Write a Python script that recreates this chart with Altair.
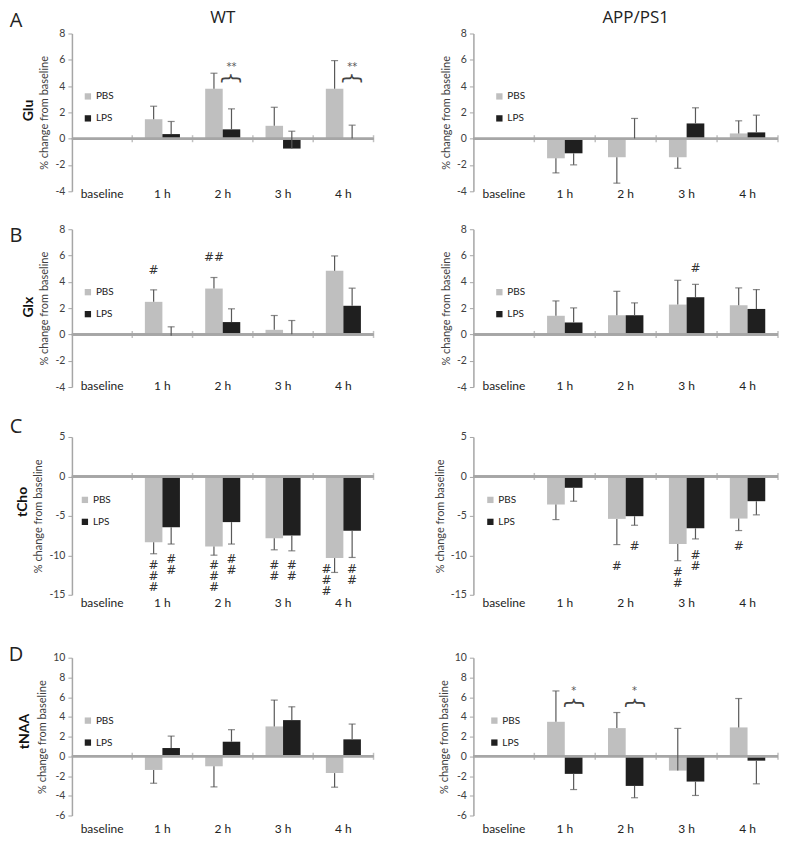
import altair as alt
import pandas as pd

# ---------------- data ----------------
categories = ["baseline", "1 h", "2 h", "3 h", "4 h"]
times = ["1 h", "2 h", "3 h", "4 h"]
groups = ["PBS", "LPS"]
group_colors = ["#bfbfbf", "#1f1f1f"]
genotypes = ["WT", "APP/PS1"]
metrics = ["Glu", "Glx", "tCho", "tNAA"]
panel_letters = ["A", "B", "C", "D"]
y_title = "% change from baseline"

# y-axis ranges and tick labels
glu_domain, glu_ticks = [-4, 8], [-4, -2, 0, 2, 4, 6, 8]
glx_domain, glx_ticks = [-4, 8], [-4, -2, 0, 2, 4, 6, 8]
tcho_domain, tcho_ticks = [-15, 5], [-15, -10, -5, 0, 5]
tnaa_domain, tnaa_ticks = [-6, 10], [-6, -4, -2, 0, 2, 4, 6, 8, 10]

# mean % change (bar) and end of the one-sided error bar, per time point 1h..4h
glu_wt_pbs = [1.48, 3.80, 0.98, 3.80]
glu_wt_pbs_end = [2.47, 4.98, 2.39, 5.94]
glu_wt_lps = [0.35, 0.71, -0.75, 0.02]
glu_wt_lps_end = [1.31, 2.27, 0.57, 1.03]

glu_app_pbs = [-1.49, -1.41, -1.41, 0.40]
glu_app_pbs_end = [-2.60, -3.38, -2.25, 1.36]
glu_app_lps = [-1.11, 0.02, 1.16, 0.48]
glu_app_lps_end = [-1.99, 1.54, 2.35, 1.79]

glx_wt_pbs = [2.48, 3.49, 0.35, 4.84]
glx_wt_pbs_end = [3.39, 4.33, 1.44, 5.97]
glx_wt_lps = [-0.10, 0.94, 0.02, 2.18]
glx_wt_lps_end = [0.58, 1.95, 1.06, 3.52]

glx_app_pbs = [1.42, 1.46, 2.27, 2.22]
glx_app_pbs_end = [2.55, 3.28, 4.12, 3.54]
glx_app_lps = [0.91, 1.46, 2.83, 1.94]
glx_app_lps_end = [2.02, 2.40, 3.81, 3.41]

tcho_wt_pbs = [-8.33, -8.88, -7.82, -10.35]
tcho_wt_pbs_end = [-9.80, -9.98, -9.30, -12.17]
tcho_wt_lps = [-6.43, -5.79, -7.48, -6.89]
tcho_wt_lps_end = [-8.57, -8.57, -9.43, -10.27]

tcho_app_pbs = [-3.56, -5.38, -8.56, -5.34]
tcho_app_pbs_end = [-5.47, -8.64, -10.68, -6.86]
tcho_app_lps = [-1.44, -5.04, -6.57, -3.14]
tcho_app_lps_end = [-3.14, -6.19, -7.92, -4.87]

tnaa_wt_pbs = [-1.38, -1.01, 3.03, -1.70]
tnaa_wt_pbs_end = [-2.73, -3.10, 5.70, -3.13]
tnaa_wt_lps = [0.84, 1.48, 3.67, 1.72]
tnaa_wt_lps_end = [2.05, 2.70, 5.02, 3.27]

tnaa_app_pbs = [3.50, 2.86, -1.45, 2.93]
tnaa_app_pbs_end = [6.63, 4.44, 2.83, 5.86]
tnaa_app_lps = [-1.78, -3.00, -2.56, -0.44]
tnaa_app_lps_end = [-3.37, -4.20, -3.97, -2.79]

# significance vs PBS (asterisks with a brace over the LPS bar)
sig_metric = ["Glu", "Glu", "tNAA", "tNAA"]
sig_geno = ["WT", "WT", "APP/PS1", "APP/PS1"]
sig_time = ["2 h", "4 h", "1 h", "2 h"]
sig_label = ["**", "**", "*", "*"]
sig_y = [5.43, 5.43, 6.6, 6.6]
brace_y = [4.6, 4.6, 5.42, 5.42]

# significance vs baseline (# marks)
hash_metric = ["Glx", "Glx", "Glx"] + ["tCho"] * 13
hash_geno = ["WT", "WT", "APP/PS1"] + ["WT"] * 8 + ["APP/PS1"] * 5
hash_time = ["1 h", "2 h", "3 h",
             "1 h", "1 h", "2 h", "2 h", "3 h", "3 h", "4 h", "4 h",
             "2 h", "2 h", "3 h", "3 h", "4 h"]
hash_group = ["PBS", "PBS", "LPS",
              "PBS", "LPS", "PBS", "LPS", "PBS", "LPS", "PBS", "LPS",
              "PBS", "LPS", "PBS", "LPS", "PBS"]
hash_label = ["#", "##", "#",
              "#\n#\n#", "#\n#", "#\n#\n#", "#\n#", "#\n#", "#\n#", "#\n#\n#", "#\n#",
              "#", "#", "#\n#", "#\n#", "#"]
hash_y = [5.29, 6.25, 5.43,
          -10.65, -9.8, -10.65, -9.8, -10.57, -10.57, -11.1, -11.1,
          -10.76, -8.22, -11.5, -9.36, -8.22]
hash_side = ["c", "c", "c",
             "c", "c", "c", "c", "c", "c", "left", "c",
             "c", "c", "c", "c", "c"]

series = {
    ("Glu", "WT"): (glu_wt_pbs, glu_wt_pbs_end, glu_wt_lps, glu_wt_lps_end),
    ("Glu", "APP/PS1"): (glu_app_pbs, glu_app_pbs_end, glu_app_lps, glu_app_lps_end),
    ("Glx", "WT"): (glx_wt_pbs, glx_wt_pbs_end, glx_wt_lps, glx_wt_lps_end),
    ("Glx", "APP/PS1"): (glx_app_pbs, glx_app_pbs_end, glx_app_lps, glx_app_lps_end),
    ("tCho", "WT"): (tcho_wt_pbs, tcho_wt_pbs_end, tcho_wt_lps, tcho_wt_lps_end),
    ("tCho", "APP/PS1"): (tcho_app_pbs, tcho_app_pbs_end, tcho_app_lps, tcho_app_lps_end),
    ("tNAA", "WT"): (tnaa_wt_pbs, tnaa_wt_pbs_end, tnaa_wt_lps, tnaa_wt_lps_end),
    ("tNAA", "APP/PS1"): (tnaa_app_pbs, tnaa_app_pbs_end, tnaa_app_lps, tnaa_app_lps_end),
}
y_setup = {
    "Glu": (glu_domain, glu_ticks),
    "Glx": (glx_domain, glx_ticks),
    "tCho": (tcho_domain, tcho_ticks),
    "tNAA": (tnaa_domain, tnaa_ticks),
}

sig_df = pd.DataFrame({"metric": sig_metric, "geno": sig_geno, "time": sig_time,
                       "group": ["LPS"] * len(sig_time), "label": sig_label,
                       "y": sig_y, "brace_y": brace_y})
hash_df = pd.DataFrame({"metric": hash_metric, "geno": hash_geno, "time": hash_time,
                        "group": hash_group, "label": hash_label, "y": hash_y,
                        "side": hash_side})
# x-axis line sits at 0 % change
axis_df = pd.DataFrame({"time": categories, "zero": [0] * len(categories)})
one_df = pd.DataFrame({"k": [0]})


def bar_df(metric, geno):
    pbs, pbs_end, lps, lps_end = series[(metric, geno)]
    rows = []
    for i, t in enumerate(times):
        rows.append({"time": t, "group": "PBS", "value": pbs[i], "end": pbs_end[i]})
        rows.append({"time": t, "group": "LPS", "value": lps[i], "end": lps_end[i]})
    return pd.DataFrame(rows)


# ---------------- layout / style ----------------
PANEL_H = 158
LEFT_W, RIGHT_W = 302, 305
LABEL_PAD = {"Glu": 2, "Glx": -2, "tCho": 8, "tNAA": 13}
LETTER_Y = {"Glu": -13, "Glx": 7, "tCho": -10, "tNAA": -3}
METRIC_POS = {"Glu": (-43, 77), "Glx": (-43, 78), "tCho": (-49, 65), "tNAA": (-47, 74)}
LEGEND_X = {("Glu", "WT"): 11, ("Glu", "APP/PS1"): 21, ("Glx", "WT"): 11,
            ("Glx", "APP/PS1"): 21, ("tCho", "WT"): 8, ("tCho", "APP/PS1"): 12,
            ("tNAA", "WT"): 11, ("tNAA", "APP/PS1"): 16}
GAPS = [38, 50, 63]
AXIS_GRAY = "#a6a6a6"
ERR_COLOR = "#595959"
TXT = "#333333"


def panel(metric, geno):
    left = geno == "WT"
    width = LEFT_W if left else RIGHT_W
    dom, ticks = y_setup[metric]
    df = bar_df(metric, geno)

    xs = alt.Scale(domain=categories, paddingInner=0, paddingOuter=0)
    x_axis = alt.Axis(orient="bottom", domain=False, ticks=False, tickSize=0,
                      labelAngle=0, labelPadding=LABEL_PAD[metric],
                      labelBaseline="middle", labelFont="Lato", labelFontSize=12,
                      labelColor="#222222", grid=False, labelOverlap=False)

    def X(**kw):
        return alt.X("time:N", scale=xs, axis=x_axis, title=None, **kw)

    xo = alt.XOffset("group:N",
                     scale=alt.Scale(domain=groups, paddingInner=0, paddingOuter=0.72))
    ys = alt.Scale(domain=dom, nice=False)
    y_axis = alt.Axis(values=ticks, tickCount=len(ticks), labelExpr="datum.value + ''",
                      labelOverlap=False, labelSeparation=0,
                      domainColor=AXIS_GRAY, domainWidth=1.5, tickColor=AXIS_GRAY,
                      tickSize=4, tickWidth=1, labelFont="Lato", labelFontSize=10.5,
                      labelColor="#404040", labelPadding=3, titleFont="Lato",
                      titleFontSize=11, titleFontWeight="normal", titleColor="#404040",
                      titlePadding=5, grid=False)

    def Y(field):
        return alt.Y(field, type="quantitative", scale=ys, axis=y_axis, title=y_title)

    base = alt.Chart(df)
    bars = base.mark_bar().encode(
        x=X(), xOffset=xo, y=Y("value"),
        color=alt.Color("group:N",
                        scale=alt.Scale(domain=groups, range=group_colors),
                        legend=alt.Legend(orient="none", legendX=LEGEND_X[(metric, geno)],
                                          legendY=58, direction="vertical", title=None,
                                          symbolType="square", symbolSize=40,
                                          symbolStrokeWidth=0, symbolOpacity=1,
                                          labelFont="Lato", labelFontSize=10,
                                          labelColor="#222222", labelOffset=3,
                                          rowPadding=12, padding=0)),
    )
    axis_base = alt.Chart(axis_df)
    zero = axis_base.mark_rule(color=AXIS_GRAY, strokeWidth=2).encode(y=Y("zero"))
    band_ticks = axis_base.mark_tick(
        orient="vertical", size=7, thickness=1.5, color=AXIS_GRAY).encode(
        x=X(bandPosition=1), y=Y("zero"))
    err = base.mark_rule(color=ERR_COLOR, strokeWidth=1.2).encode(
        x=X(), xOffset=xo, y=Y("value"), y2=alt.Y2("end"))
    caps = base.mark_tick(orient="horizontal", size=7, thickness=1.2,
                          color=ERR_COLOR).encode(x=X(), xOffset=xo, y=Y("end"))

    layers = [bars, zero, band_ticks, err, caps]

    h = hash_df[(hash_df.metric == metric) & (hash_df.geno == geno)]
    if len(h):
        hc = h[h.side == "c"]
        hl = h[h.side == "left"]
        for sub, dx in ((hc, 0), (hl, -8)):
            if len(sub):
                layers.append(alt.Chart(sub).mark_text(
                    font="DejaVu Sans", fontSize=12, color=TXT, baseline="top",
                    align="center", lineBreak="\n", lineHeight=11, dx=dx).encode(
                    x=X(), xOffset=xo, y=Y("y"), text="label:N"))

    s = sig_df[(sig_df.metric == metric) & (sig_df.geno == geno)]
    if len(s):
        layers.append(alt.Chart(s).mark_text(
            font="DejaVu Sans", fontSize=10, color="#555555", baseline="middle",
            align="center").encode(x=X(), xOffset=xo, y=Y("y"), text="label:N"))
        layers.append(alt.Chart(s).mark_text(
            text="}", angle=270, font="DejaVu Sans", fontSize=21, color="#444444",
            baseline="middle", align="center").encode(x=X(), xOffset=xo, y=Y("brace_y")))

    if left:
        letter = panel_letters[metrics.index(metric)]
        layers.append(alt.Chart(one_df).mark_text(
            text=letter, font="Open Sans", fontSize=20, color="#222222",
            align="center", baseline="middle").encode(
            x=alt.value(-56), y=alt.value(LETTER_Y[metric])))
        mx, my = METRIC_POS[metric]
        layers.append(alt.Chart(one_df).mark_text(
            text=metric, font="Lato", fontSize=14, fontWeight="bold", color="#111111",
            angle=270, align="center", baseline="middle").encode(
            x=alt.value(mx), y=alt.value(my)))

    if metric == "Glu":
        # column heading (genotype) above the top row
        layers.append(alt.Chart(one_df).mark_text(
            text=geno, font="Open Sans", fontSize=17, color="#222222",
            align="center", baseline="middle").encode(
            x=alt.value(width / 2 + (0 if left else 10)), y=alt.value(-16)))

    return alt.layer(*layers).properties(width=width, height=PANEL_H)


def spacer(h):
    return alt.Chart(one_df).mark_point(opacity=0).encode(
        x=alt.value(0), y=alt.value(0)).properties(width=1, height=h)


cells = []
for r, metric in enumerate(metrics):
    if r > 0:
        g = GAPS[r - 1] - 8
        cells += [spacer(g), spacer(g)]
    cells += [panel(metric, "WT"), panel(metric, "APP/PS1")]

chart = alt.concat(
    *cells, columns=2, bounds="flush",
    spacing=alt.RowColnumber(row=4, column=100),
).resolve_scale(
    color="independent", xOffset="independent"
).resolve_legend(
    color="independent"
).properties(padding=0).configure_view(strokeWidth=0)

chart.save("out.html", embed_options={"renderer": "svg", "actions": False})
